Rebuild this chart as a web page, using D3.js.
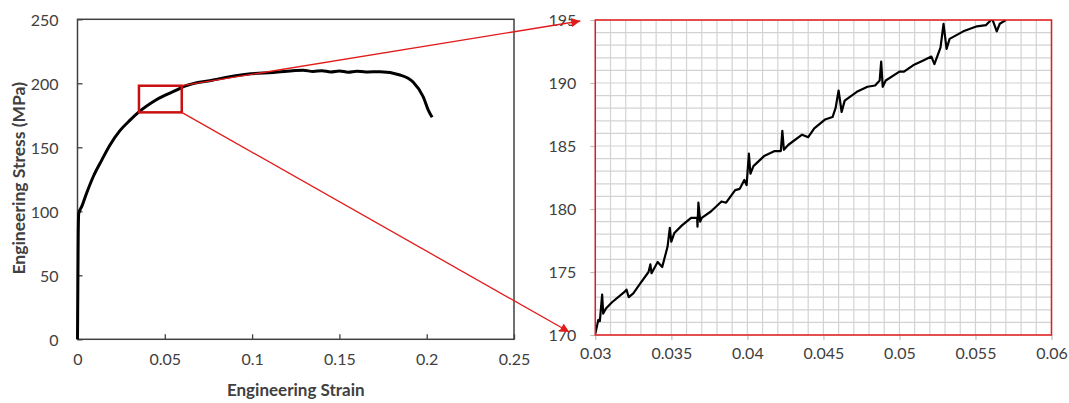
<!DOCTYPE html>
<html>
<head>
<meta charset="utf-8">
<script src="https://cdn.jsdelivr.net/npm/d3@7"></script>
<style>
  body { margin: 0; background: #fff; }
  text { font-family: Lato, "Open Sans", sans-serif; }
</style>
</head>
<body>
<svg id="canvas" width="1069" height="403"></svg>
<script>
// full test curve (left panel)
let fullStrain = [0, 0.0002, 0.0004, 0.0007, 0.0024, 0.0053, 0.009, 0.0139, 0.0186, 0.0243, 0.0301, 0.0352, 0.0454, 0.0587, 0.0606, 0.0778, 0.0969, 0.1121, 0.1293, 0.135, 0.14, 0.145, 0.15, 0.155, 0.16, 0.165, 0.1733, 0.1847, 0.1922, 0.198, 0.2009, 0.2031]
let fullStress = [0, 40, 80, 98.4, 103.6, 114.5, 127, 140, 151.8, 163, 171.2, 177.6, 187.3, 196, 197.4, 202.6, 207.1, 208.4, 210.2, 209.2, 209.9, 208.8, 209.6, 208.7, 209.5, 208.9, 209, 206.5, 201, 189.5, 179, 173.4]

// zoomed detail (right panel)
let zoomStrain = [0.03, 0.0302, 0.0303, 0.03045, 0.03052, 0.0307, 0.0311, 0.0319, 0.03205, 0.0322, 0.0325, 0.0329, 0.0335, 0.03362, 0.0337, 0.0341, 0.0344, 0.03475, 0.0349, 0.035, 0.0352, 0.0357, 0.0363, 0.0367, 0.03672, 0.03678, 0.0369, 0.037, 0.0376, 0.0383, 0.0386, 0.0392, 0.0395, 0.0398, 0.03995, 0.0401, 0.0402, 0.0404, 0.0411, 0.0418, 0.0422, 0.0423, 0.0424, 0.0427, 0.0436, 0.044, 0.0444, 0.0451, 0.0456, 0.0458, 0.046, 0.0462, 0.0464, 0.0472, 0.0479, 0.0484, 0.0487, 0.0488, 0.0489, 0.0491, 0.05, 0.0503, 0.0509, 0.0516, 0.0521, 0.0523, 0.0527, 0.0529, 0.0531, 0.0533, 0.0542, 0.0551, 0.0557, 0.0561, 0.0564, 0.0566, 0.057]
let zoomStress = [170.1, 171.2, 171.1, 173.2, 171.7, 172.1, 172.6, 173.4, 173.6, 173.0, 173.3, 174.0, 175.0, 175.6, 174.9, 175.8, 175.4, 177.0, 178.5, 177.4, 178.1, 178.7, 179.3, 179.3, 178.6, 180.5, 179.0, 179.3, 179.8, 180.6, 180.5, 181.5, 181.6, 182.3, 181.9, 184.4, 182.8, 183.4, 184.2, 184.6, 184.6, 186.2, 184.7, 185.1, 185.9, 185.7, 186.4, 187.1, 187.3, 188.0, 189.4, 187.7, 188.6, 189.3, 189.7, 189.8, 190.2, 191.7, 189.7, 190.2, 190.9, 190.9, 191.4, 191.8, 192.1, 191.5, 192.8, 194.7, 192.7, 193.5, 194.1, 194.5, 194.6, 195.1, 194.1, 194.7, 195.0]

let leftXTicks = [0, 0.05, 0.1, 0.15, 0.2, 0.25]
let leftXLabels = ['0', '0.05', '0.1', '0.15', '0.2', '0.25']
let leftYTicks = [0, 50, 100, 150, 200, 250]
let rightXTicks = [0.03, 0.035, 0.04, 0.045, 0.05, 0.055, 0.06]
let rightXLabels = ['0.03', '0.035', '0.04', '0.045', '0.05', '0.055', '0.06']
let rightYTicks = [170, 175, 180, 185, 190, 195]

// highlighted region on the left panel
let boxStrain = [0.0352, 0.0597]
let boxStress = [177.3, 198.1]

let canvas = d3.select('#canvas')
let red = '#e21b1b'
let axisGrey = '#404040'

// ---- left panel ----
let xL = d3.scaleLinear().domain([0, 0.25]).range([77.5, 514])
let yL = d3.scaleLinear().domain([0, 250]).range([339.3, 19.3])

let left = canvas.append('g')

left.append('g')
    .attr('transform', 'translate(0,' + yL(0) + ')')
    .call(d3.axisBottom(xL).tickValues(leftXTicks).tickSizeInner(-5).tickSizeOuter(0)
        .tickPadding(14).tickFormat((d, i) => leftXLabels[i]))
    .call(g => g.select('.domain').remove())
    .call(g => g.selectAll('line').attr('stroke', axisGrey).attr('stroke-width', 1.3))
    .call(g => g.selectAll('text').attr('font-size', 16).attr('fill', axisGrey))

left.append('g')
    .attr('transform', 'translate(' + xL(0) + ',0)')
    .call(d3.axisLeft(yL).tickValues(leftYTicks).tickSizeInner(-5).tickSizeOuter(0)
        .tickPadding(19))
    .call(g => g.select('.domain').remove())
    .call(g => g.selectAll('line').attr('stroke', axisGrey).attr('stroke-width', 1.3))
    .call(g => g.selectAll('text').attr('font-size', 16).attr('fill', axisGrey).attr('dy', '0.36em'))

left.append('rect')
    .attr('x', xL(0)).attr('y', yL(250))
    .attr('width', xL(0.25) - xL(0)).attr('height', yL(0) - yL(250))
    .attr('fill', 'none').attr('stroke', axisGrey).attr('stroke-width', 1.5)

let leftLine = d3.line()
    .x((d) => xL(d[0]))
    .y((d) => yL(d[1]))
    .curve(d3.curveMonotoneX)

left.append('path')
    .datum(d3.zip(fullStrain, fullStress))
    .attr('d', leftLine)
    .attr('fill', 'none')
    .attr('stroke', '#000')
    .attr('stroke-width', 3)

left.append('rect')
    .attr('x', xL(boxStrain[0])).attr('y', yL(boxStress[1]))
    .attr('width', xL(boxStrain[1]) - xL(boxStrain[0]))
    .attr('height', yL(boxStress[0]) - yL(boxStress[1]))
    .attr('fill', 'none').attr('stroke', '#c81010').attr('stroke-width', 2.5)

left.append('text')
    .attr('x', (xL(0) + xL(0.25)) / 2).attr('y', 396)
    .attr('text-anchor', 'middle')
    .attr('font-size', 17).attr('font-weight', 'bold').attr('fill', axisGrey)
    .text('Engineering Strain')

left.append('text')
    .attr('transform', 'translate(25,' + (yL(125) - 1) + ') rotate(-90)')
    .attr('text-anchor', 'middle')
    .attr('font-size', 17.5).attr('font-weight', 'bold').attr('fill', axisGrey)
    .text('Engineering Stress (MPa)')

// ---- right panel ----
let xR = d3.scaleLinear().domain([0.03, 0.06]).range([595.3, 1051.5])
let yR = d3.scaleLinear().domain([170, 195]).range([335, 20])

let right = canvas.append('g')

right.append('g')
    .selectAll('line.vgrid')
    .data(d3.range(31).map((i) => 0.03 + i * 0.001))
    .enter()
    .append('line')
    .attr('x1', (d) => xR(d)).attr('x2', (d) => xR(d))
    .attr('y1', yR(170)).attr('y2', yR(195))
    .attr('stroke', '#d3d3d3').attr('stroke-width', 1.2)

right.append('g')
    .selectAll('line.hgrid')
    .data(d3.range(26).map((i) => 170 + i))
    .enter()
    .append('line')
    .attr('x1', xR(0.03)).attr('x2', xR(0.06))
    .attr('y1', (d) => yR(d)).attr('y2', (d) => yR(d))
    .attr('stroke', '#d3d3d3').attr('stroke-width', 1.2)

right.append('g')
    .attr('transform', 'translate(0,' + yR(170) + ')')
    .call(d3.axisBottom(xR).tickValues(rightXTicks).tickSizeInner(5).tickSizeOuter(0)
        .tickPadding(8).tickFormat((d, i) => rightXLabels[i]))
    .call(g => g.select('.domain').remove())
    .call(g => g.selectAll('line').attr('stroke', '#bfbfbf').attr('stroke-width', 1.2))
    .call(g => g.selectAll('text').attr('font-size', 16).attr('fill', axisGrey))

right.append('g')
    .attr('transform', 'translate(' + xR(0.03) + ',0)')
    .call(d3.axisLeft(yR).tickValues(rightYTicks).tickSizeInner(5).tickSizeOuter(0)
        .tickPadding(14))
    .call(g => g.select('.domain').remove())
    .call(g => g.selectAll('line').attr('stroke', '#bfbfbf').attr('stroke-width', 1.2))
    .call(g => g.selectAll('text').attr('font-size', 16).attr('fill', axisGrey).attr('dy', '0.36em'))

right.append('clipPath').attr('id', 'zoomClip')
    .append('rect')
    .attr('x', xR(0.03)).attr('y', yR(195))
    .attr('width', xR(0.06) - xR(0.03)).attr('height', yR(170) - yR(195))

let rightLine = d3.line()
    .x((d) => xR(d[0]))
    .y((d) => yR(d[1]))

right.append('path')
    .datum(d3.zip(zoomStrain, zoomStress))
    .attr('d', rightLine)
    .attr('clip-path', 'url(#zoomClip)')
    .attr('fill', 'none')
    .attr('stroke', '#000')
    .attr('stroke-width', 2.2)
    .attr('stroke-linejoin', 'round')

right.append('rect')
    .attr('x', xR(0.03)).attr('y', yR(195))
    .attr('width', xR(0.06) - xR(0.03)).attr('height', yR(170) - yR(195))
    .attr('fill', 'none').attr('stroke', red).attr('stroke-width', 1.5)

// ---- connector arrows ----
canvas.append('defs').append('marker')
    .attr('id', 'arrow')
    .attr('markerUnits', 'userSpaceOnUse')
    .attr('viewBox', '0 0 10 10')
    .attr('refX', 10).attr('refY', 5)
    .attr('markerWidth', 11).attr('markerHeight', 9)
    .attr('orient', 'auto')
    .append('path')
    .attr('d', 'M0,0 L10,5 L0,10 Z')
    .attr('fill', red)

let arrows = [
    [xL(boxStrain[1]), yL(boxStress[1]), xR(0.03) - 15, yR(195) + 1],
    [xL(boxStrain[1]), yL(boxStress[0]), xR(0.03) - 26, yR(170) - 3]
]

canvas.append('g')
    .selectAll('line')
    .data(arrows)
    .enter()
    .append('line')
    .attr('x1', (d) => d[0]).attr('y1', (d) => d[1])
    .attr('x2', (d) => d[2]).attr('y2', (d) => d[3])
    .attr('stroke', red).attr('stroke-width', 1.3)
    .attr('marker-end', 'url(#arrow)')
</script>
</body>
</html>
